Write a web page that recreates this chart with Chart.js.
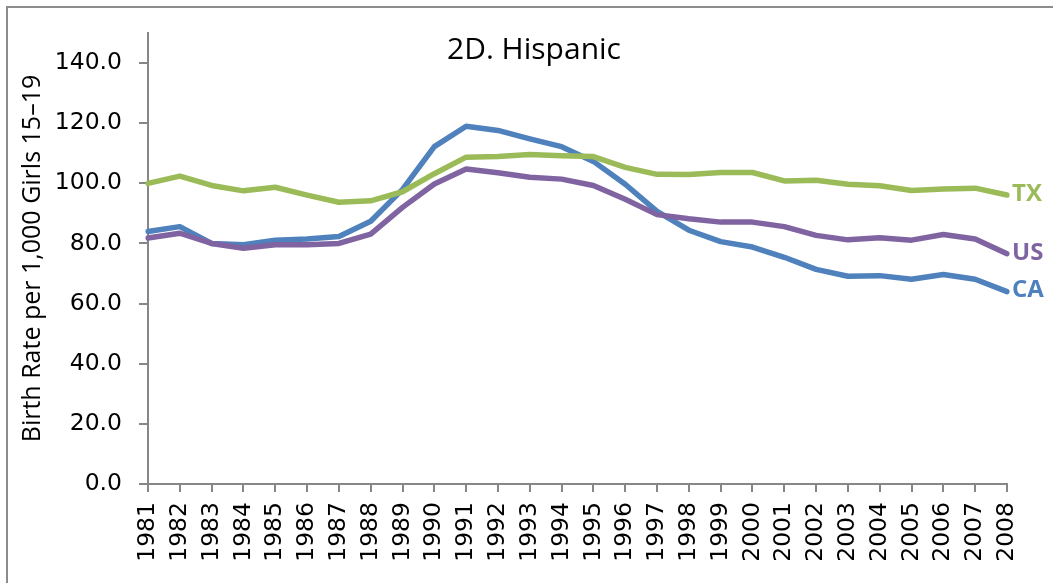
<!DOCTYPE html>
<html>
<head>
<meta charset="utf-8">
<script src="https://cdn.jsdelivr.net/npm/chart.js@4"></script>
<style>
  html, body { margin: 0; padding: 0; background: #fff; }
  #wrap { position: relative; width: 1053px; height: 583px; overflow: hidden; }
  #frame { position: absolute; left: 6px; top: 6px; width: 1100px; height: 700px;
           border-left: 2px solid #8c8c8c; border-top: 2px solid #8c8c8c; }
  canvas { position: absolute; left: 0; top: 0; }
</style>
</head>
<body>
<div id="wrap">
  <div id="frame"></div>
  <canvas id="c" width="1053" height="583"></canvas>
</div>
<script>
const years = ['1981','1982','1983','1984','1985','1986','1987','1988','1989','1990',
  '1991','1992','1993','1994','1995','1996','1997','1998','1999','2000',
  '2001','2002','2003','2004','2005','2006','2007','2008'];
const seriesNames = ['TX', 'US', 'CA'];
const txValues = [100.0, 102.4, 99.3, 97.5, 98.7, 96.1, 93.7, 94.2, 97.2, 103.2,
  108.7, 108.9, 109.6, 109.2, 108.9, 105.3, 103.0, 102.9, 103.6, 103.6,
  100.8, 101.0, 99.7, 99.2, 97.6, 98.1, 98.4, 96.1];
const usValues = [81.8, 83.4, 80.0, 78.4, 79.6, 79.6, 80.0, 83.1, 92.0, 99.8,
  104.8, 103.5, 102.0, 101.4, 99.3, 94.7, 89.6, 88.2, 87.1, 87.1,
  85.6, 82.7, 81.2, 81.9, 81.1, 83.0, 81.5, 76.6];
const caValues = [84.0, 85.6, 80.0, 79.6, 81.1, 81.5, 82.3, 87.4, 98.0, 112.2,
  119.0, 117.6, 114.8, 112.2, 107.3, 99.7, 90.7, 84.4, 80.6, 78.8,
  75.4, 71.4, 69.1, 69.3, 68.1, 69.7, 68.1, 64.0];
const yTicks = [0, 20, 40, 60, 80, 100, 120, 140];
const chartTitle = '2D. Hispanic';
const yTitle = 'Birth Rate per 1,000 Girls 15\u201319';

const colors = { TX: '#9BBB59', US: '#8064A2', CA: '#4F81BD' };
const gray = '#868686';

const labelPlugin = {
  id: 'labels',
  afterDatasetsDraw(chart) {
    const ctx = chart.ctx;
    ctx.save();
    ctx.fillStyle = '#000';
    ctx.font = '30px "Open Sans"';
    ctx.textAlign = 'center';
    ctx.textBaseline = 'middle';
    ctx.fillText(chartTitle, 534, 50);
    ctx.font = 'bold 24px "Open Sans"';
    ctx.textAlign = 'left';
    chart.data.datasets.forEach((ds, i) => {
      const meta = chart.getDatasetMeta(i);
      const pt = meta.data[meta.data.length - 1];
      ctx.fillStyle = ds.borderColor;
      ctx.fillText(ds.label, pt.x + 5, pt.y - 1);
    });
    ctx.restore();
  }
};

new Chart(document.getElementById('c'), {
  type: 'line',
  data: {
    labels: years,
    datasets: [
      { label: seriesNames[0], data: txValues, borderColor: colors.TX },
      { label: seriesNames[1], data: usValues, borderColor: colors.US },
      { label: seriesNames[2], data: caValues, borderColor: colors.CA }
    ].map(d => Object.assign(d, { borderWidth: 5.5, pointRadius: 0, tension: 0, fill: false,
      borderJoinStyle: 'round', borderCapStyle: 'round' }))
  },
  options: {
    responsive: false,
    animation: false,
    devicePixelRatio: 1,
    layout: { padding: { left: 0, top: 33, right: 46, bottom: 0 } },
    plugins: { legend: { display: false }, tooltip: { enabled: false }, title: { display: false } },
    scales: {
      x: {
        offset: false,
        grid: { display: true, drawOnChartArea: false, drawTicks: true, tickLength: 8, color: gray, lineWidth: 2 },
        border: { display: true, color: gray, width: 2 },
        ticks: { autoSkip: false, minRotation: 90, maxRotation: 90, padding: 10, color: '#000',
          font: { family: 'DejaVu Sans', size: 23.5 } },
        afterFit(scale) { scale.height = 99; }
      },
      y: {
        min: 0, max: 150,
        afterBuildTicks(scale) { scale.ticks = yTicks.map(v => ({ value: v })); },
        grid: { display: true, drawOnChartArea: false, drawTicks: true, tickLength: 9, color: gray, lineWidth: 2 },
        border: { display: true, color: gray, width: 2 },
        ticks: { padding: 17, color: '#000', font: { family: 'DejaVu Sans', size: 23.5 },
          callback: v => Number(v).toFixed(1) },
        title: { display: true, text: yTitle, color: '#000', font: { family: 'Open Sans', size: 25 },
          padding: { top: 18, bottom: 0 } },
        afterFit(scale) { scale.width = 148; }
      }
    }
  },
  plugins: [labelPlugin]
});
</script>
</body>
</html>
